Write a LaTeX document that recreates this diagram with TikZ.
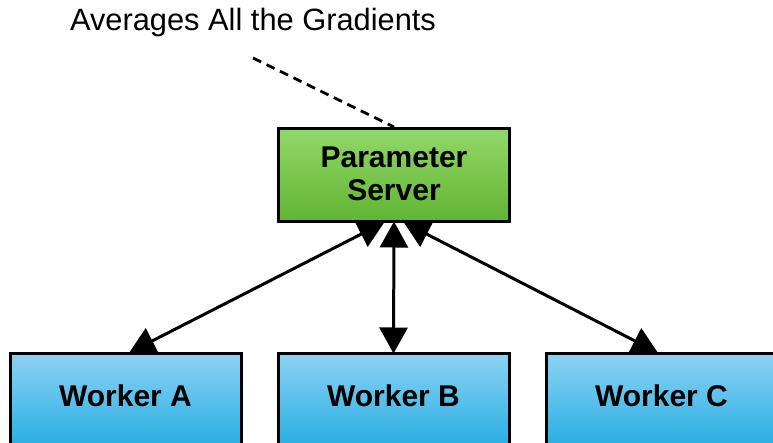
\documentclass[tikz,border=0pt]{standalone}
\usepackage{fontspec}
\setmainfont{Liberation Sans}
\usetikzlibrary{arrows.meta}
\definecolor{gtop}{RGB}{146,216,104}
\definecolor{gbot}{RGB}{98,180,52}
\definecolor{btop}{RGB}{140,210,244}
\definecolor{bbot}{RGB}{0,160,220}
\tikzset{
  x=1pt,y=1pt,
  box/.style={draw=black, line width=3pt, rectangle, inner sep=0pt,
    font=\fontsize{30}{36}\selectfont\bfseries, align=center},
  server/.style={box, top color=gtop, bottom color=gbot, minimum width=231, minimum height=93},
  worker/.style={box, top color=btop, bottom color=bbot, minimum width=231, minimum height=130},
  link/.style={line width=3pt, {Triangle[length=26pt,width=28pt]}-{Triangle[length=26pt,width=28pt]}, shorten <=-1.5pt, shorten >=-1.5pt},
  note/.style={line width=2.8pt, dash pattern=on 9pt off 6pt},
}
\begin{document}
\begin{tikzpicture}
\useasboundingbox (0,0) rectangle (773,443);
\node[server] (ps) at (394,268) {\raisebox{2pt}{Parameter}\\[-3pt]\raisebox{2pt}{Server}};
\node[worker, anchor=north, label={[font=\fontsize{30}{36}\selectfont\bfseries, yshift=-44pt, anchor=center]north:Worker A}] (wa) at (125.5,91) {};
\node[worker, anchor=north, label={[font=\fontsize{30}{36}\selectfont\bfseries, yshift=-44pt, anchor=center]north:Worker B}] (wb) at (393.5,91) {};
\node[worker, anchor=north, label={[font=\fontsize{30}{36}\selectfont\bfseries, yshift=-44pt, anchor=center]north:Worker C}] (wc) at (661.5,91) {};
\node[font=\fontsize{30.8}{36}\selectfont, anchor=center] (avg) at (253,420) {Averages All the Gradients};
\coordinate (ns) at (253,385);
\draw[note] (ns) -- (ps.north);
\draw[link] ([xshift=-11pt]ps.south) -- ([xshift=5pt]wa.north);
\draw[link] (ps.south) -- (wb.north);
\draw[link] ([xshift=11pt]ps.south) -- ([xshift=-5pt]wc.north);
\end{tikzpicture}
\end{document}
